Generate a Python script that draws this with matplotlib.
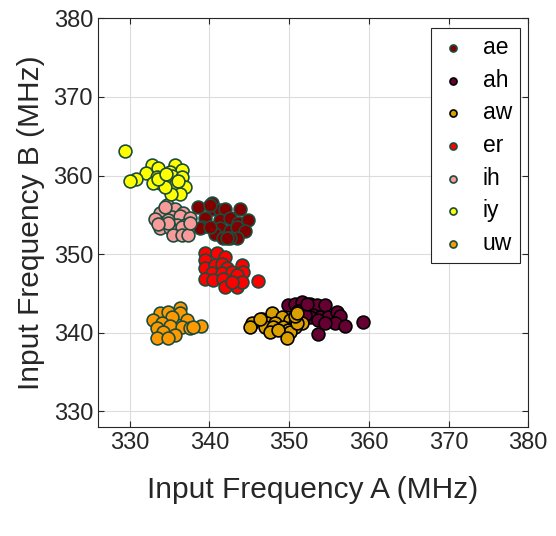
import matplotlib.pyplot as plt

plt.rcParams['font.family'] = ['Liberation Sans', 'DejaVu Sans']

labels = ['ae', 'ah', 'aw', 'er', 'ih', 'iy', 'uw']
face_colors = ['#800000', '#660033', '#d9a000', '#ff0000', '#f89a9a', '#ffff00', '#ff9900']
edge_colors = ['#1b4d3e', '#000000', '#000000', '#1b4d3e', '#1b4d3e', '#1b4d3e', '#1b4d3e']

ae_x = [338.6, 340.3, 340.3, 341.3, 341.9, 343.8, 339.4, 339.1, 341.3, 342.6, 343.6, 344.8,
        341.3, 342.6, 343.5, 344.5, 340.7, 341.7, 343.5, 342.6, 340.1, 338.8, 340.1, 342.2]
ae_y = [356.0, 356.5, 355.8, 355.6, 355.8, 355.7, 354.6, 353.4, 354.3, 354.6, 354.0, 354.3,
        353.3, 353.0, 353.4, 353.0, 352.6, 352.1, 352.0, 352.0, 356.3, 353.3, 353.4, 352.0]

ah_x = [349.9, 350.8, 351.6, 352.6, 353.5, 354.5, 351.1, 353.0, 353.9, 354.9, 356.0, 356.4,
        352.6, 353.6, 355.8, 357.0, 354.5, 353.6, 359.3, 352.0, 352.3]
ah_y = [343.5, 343.7, 343.9, 343.7, 343.5, 343.5, 342.8, 342.3, 342.0, 342.0, 342.6, 342.2,
        342.0, 341.6, 341.3, 340.9, 341.2, 339.9, 341.4, 342.3, 343.7]

aw_x = [345.3, 345.1, 346.6, 347.9, 349.1, 347.2, 348.2, 350.1, 350.8, 351.6, 347.0, 348.0,
        349.2, 350.8, 347.6, 349.9, 350.1, 351.0, 350.8, 348.6, 349.7, 351.0, 346.4]
aw_y = [341.2, 340.8, 341.8, 342.5, 342.0, 341.2, 341.3, 341.6, 341.3, 341.3, 340.7, 340.7,
        340.7, 340.7, 340.1, 340.3, 340.1, 341.2, 342.2, 340.3, 339.3, 342.5, 341.7]

er_x = [339.4, 340.9, 341.9, 339.4, 339.4, 340.7, 341.6, 342.2, 344.1, 344.2, 340.3, 341.6,
        342.8, 343.5, 339.4, 340.4, 341.7, 341.9, 343.5, 344.1, 346.1, 342.8]
er_y = [350.1, 350.1, 349.6, 349.2, 348.3, 348.6, 348.8, 348.2, 348.6, 347.7, 347.6, 347.6,
        347.7, 347.3, 346.9, 346.7, 346.9, 345.8, 345.8, 346.4, 346.6, 346.4]

ih_x = [334.7, 335.7, 333.8, 336.7, 335.3, 336.3, 337.5, 334.0, 334.8, 335.9, 336.9, 333.8,
        335.0, 336.5, 335.4, 336.5, 337.3, 334.8, 337.5, 334.4, 333.2, 333.5]
ih_y = [356.2, 355.8, 355.2, 355.2, 354.7, 354.9, 354.6, 354.0, 354.3, 353.7, 353.7, 353.3,
        353.3, 353.4, 352.4, 352.4, 352.4, 353.9, 354.0, 356.0, 354.5, 353.8]

iy_x = [329.4, 332.8, 333.6, 332.1, 330.8, 330.0, 335.7, 335.0, 336.5, 333.4, 333.8, 335.3,
        336.5, 336.9, 335.0, 335.7, 336.3, 335.2, 332.9, 334.4, 333.5, 334.5, 336.0]
iy_y = [363.1, 361.3, 361.0, 360.3, 359.6, 359.3, 361.4, 360.4, 360.7, 359.8, 359.1, 360.0,
        359.8, 358.5, 359.0, 358.8, 357.7, 357.6, 359.1, 358.5, 359.5, 360.2, 359.3]

uw_x = [336.3, 333.8, 334.8, 332.9, 336.3, 335.3, 337.2, 334.0, 335.0, 336.5, 338.9, 337.5,
        333.4, 334.2, 335.7, 333.4, 334.8, 337.9]
uw_y = [343.2, 342.5, 342.6, 341.6, 342.5, 342.0, 341.6, 341.3, 340.9, 340.7, 340.9, 340.6,
        340.6, 340.1, 339.7, 339.3, 339.4, 340.7]

xs = [ae_x, ah_x, aw_x, er_x, ih_x, iy_x, uw_x]
ys = [ae_y, ah_y, aw_y, er_y, ih_y, iy_y, uw_y]

fig = plt.figure(figsize=(5.56, 5.36), dpi=100)
ax = fig.add_axes([0.176, 0.203, 0.774, 0.763])

for x, y, lab, fc, ec in zip(xs, ys, labels, face_colors, edge_colors):
    ax.scatter(x, y, s=85, facecolor=fc, edgecolor=ec, linewidth=1.2, label=lab, zorder=3)

ax.set_xlim(326, 380)
ax.set_ylim(328, 380)
ax.set_xticks(range(330, 381, 10))
ax.set_yticks(range(330, 381, 10))
ax.grid(True, color='#dcdcdc', linewidth=0.8)
ax.set_axisbelow(True)
ax.tick_params(direction='in', top=True, right=True, labelsize=17, colors='#262626', length=4)
for sp in ax.spines.values():
    sp.set_color('#262626')
ax.set_xlabel('Input Frequency A (MHz)', fontsize=21.5, color='#262626', labelpad=16)
ax.set_ylabel('Input Frequency B (MHz)', fontsize=21.5, color='#262626', labelpad=6)

leg = ax.legend(loc='upper right', bbox_to_anchor=(0.981, 0.976), borderaxespad=0,
                fontsize=16.5, markerscale=0.55, handlelength=1.2,
                fancybox=False, edgecolor='#262626', framealpha=1, handletextpad=0.7,
                borderpad=0.35, labelspacing=0.42)
leg.get_frame().set_linewidth(0.8)

fig.savefig('out.png', dpi=100)
